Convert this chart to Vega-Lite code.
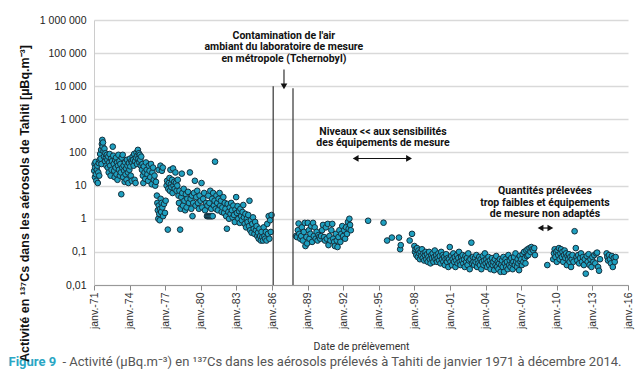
{
"$schema":"https://vega.github.io/schema/vega-lite/v6.json",
"width":534,"height":265,
"autosize":{"type":"none"},
"padding":{"left":94,"top":20,"right":12,"bottom":104},
"background":"white",
"config":{"view":{"stroke":null},"locale":{"number":{"decimal":",","thousands":" ","grouping":[3],"currency":["","€"]}}},
"resolve":{"axis":{"x":"independent","y":"independent"}},
"encoding":{
 "x":{"field":"t","type":"quantitative","scale":{"domain":[1971,2016],"nice":false,"zero":false},"axis":null},
 "y":{"field":"v","type":"quantitative","scale":{"type":"log","domain":[0.01,1000000],"nice":false},"axis":null}
},
"layer":[
{"data":{"values":[
{"t":1971.02,"v":28},{"t":1971.05,"v":45},{"t":1971.08,"v":18},{"t":1971.1,"v":35},{"t":1971.13,"v":52},{"t":1971.16,"v":22},{"t":1971.2,"v":14},{"t":1971.24,"v":30},{"t":1971.28,"v":40},{"t":1971.32,"v":12},{"t":1971.36,"v":25},{"t":1971.4,"v":48},{"t":1971.44,"v":20},{"t":1971.48,"v":60},
{"t":1971.52,"v":90},{"t":1971.56,"v":65},{"t":1971.6,"v":120},{"t":1971.63,"v":45},{"t":1971.66,"v":180},{"t":1971.7,"v":240},{"t":1971.73,"v":150},{"t":1971.76,"v":200},{"t":1971.8,"v":110},{"t":1971.84,"v":75},{"t":1971.88,"v":130},{"t":1971.92,"v":55},{"t":1971.96,"v":95},{"t":1972.0,"v":70},{"t":1972.04,"v":40},{"t":1972.08,"v":85},
{"t":1972.12,"v":60},{"t":1972.16,"v":35},{"t":1972.2,"v":75},{"t":1972.24,"v":25},{"t":1972.28,"v":50},{"t":1972.32,"v":90},{"t":1972.36,"v":40},{"t":1972.4,"v":20},{"t":1972.44,"v":65},{"t":1972.48,"v":30},{"t":1972.52,"v":55},{"t":1972.58,"v":150},{"t":1972.62,"v":80},{"t":1972.66,"v":45},{"t":1972.7,"v":28},{"t":1972.74,"v":18},{"t":1972.78,"v":60},{"t":1972.82,"v":35},{"t":1972.86,"v":70},{"t":1972.9,"v":22},{"t":1972.94,"v":50},{"t":1972.98,"v":15},{"t":1973.02,"v":40},{"t":1973.06,"v":85},{"t":1973.1,"v":30},{"t":1973.14,"v":55},{"t":1973.18,"v":20},
{"t":1973.22,"v":45},{"t":1973.26,"v":25},{"t":1973.3,"v":5.5},{"t":1973.34,"v":70},{"t":1973.38,"v":35},{"t":1973.42,"v":85},{"t":1973.46,"v":18},{"t":1973.5,"v":40},{"t":1973.54,"v":28},{"t":1973.58,"v":13},{"t":1973.62,"v":50},{"t":1973.66,"v":22},{"t":1973.7,"v":33},{"t":1973.74,"v":15},{"t":1973.78,"v":60},{"t":1973.82,"v":40},{"t":1973.86,"v":25},{"t":1973.9,"v":12},{"t":1973.94,"v":48},{"t":1973.98,"v":30},{"t":1974.02,"v":65},{"t":1974.06,"v":38},{"t":1974.1,"v":20},{"t":1974.14,"v":55},{"t":1974.18,"v":14},
{"t":1974.22,"v":50},{"t":1974.26,"v":75},{"t":1974.3,"v":60},{"t":1974.34,"v":40},{"t":1974.38,"v":90},{"t":1974.42,"v":15},{"t":1974.46,"v":55},{"t":1974.5,"v":12},{"t":1974.54,"v":70},{"t":1974.58,"v":100},{"t":1974.62,"v":45},{"t":1974.66,"v":80},{"t":1974.7,"v":120},{"t":1974.74,"v":65},{"t":1974.78,"v":95},{"t":1974.82,"v":50},{"t":1974.86,"v":85},{"t":1974.9,"v":60},{"t":1974.94,"v":40},{"t":1974.98,"v":75},
{"t":1975.04,"v":30},{"t":1975.08,"v":45},{"t":1975.12,"v":20},{"t":1975.16,"v":12},{"t":1975.2,"v":38},{"t":1975.26,"v":25},{"t":1975.32,"v":16},{"t":1975.38,"v":50},{"t":1975.44,"v":30},{"t":1975.5,"v":22},{"t":1975.56,"v":14},{"t":1975.62,"v":40},{"t":1975.68,"v":28},{"t":1975.74,"v":18},{"t":1975.8,"v":45},{"t":1975.86,"v":11},{"t":1975.92,"v":25},{"t":1975.98,"v":35},{"t":1976.04,"v":15},{"t":1976.1,"v":20},{"t":1976.16,"v":10},{"t":1976.22,"v":13},
{"t":1976.3,"v":5},{"t":1976.34,"v":3},{"t":1976.38,"v":1.8},{"t":1976.42,"v":1},{"t":1976.46,"v":2.5},{"t":1976.5,"v":1.4},{"t":1976.54,"v":0.9},{"t":1976.58,"v":2},{"t":1976.62,"v":4},{"t":1976.66,"v":1.6},{"t":1976.7,"v":3},{"t":1976.76,"v":2.2},{"t":1976.82,"v":1.2},{"t":1976.9,"v":2.8},{"t":1976.98,"v":1.5},{"t":1977.04,"v":3.5},{"t":1976.44,"v":30},{"t":1976.6,"v":40},{"t":1976.72,"v":28},{"t":1976.8,"v":35},
{"t":1977.12,"v":10},{"t":1977.16,"v":14},{"t":1977.22,"v":0.47},{"t":1977.26,"v":8},{"t":1977.3,"v":12},{"t":1977.36,"v":17},{"t":1977.4,"v":7},{"t":1977.44,"v":30},{"t":1977.48,"v":11},{"t":1977.52,"v":9},{"t":1977.58,"v":15},{"t":1977.62,"v":6},{"t":1977.66,"v":33},{"t":1977.7,"v":10},{"t":1977.76,"v":13},{"t":1977.8,"v":8},{"t":1977.86,"v":25},{"t":1977.9,"v":12},{"t":1977.96,"v":7},{"t":1978.02,"v":10},{"t":1978.06,"v":15},
{"t":1978.12,"v":5},{"t":1978.16,"v":3},{"t":1978.2,"v":7},{"t":1978.26,"v":0.47},{"t":1978.3,"v":2},{"t":1978.36,"v":4.5},{"t":1978.4,"v":23},{"t":1978.44,"v":6},{"t":1978.5,"v":2.5},{"t":1978.56,"v":8},{"t":1978.62,"v":3.5},{"t":1978.68,"v":1.8},{"t":1978.74,"v":5.5},{"t":1978.8,"v":2.2},{"t":1978.86,"v":4},{"t":1978.92,"v":6.5},{"t":1979.0,"v":3},{"t":1979.08,"v":25},
{"t":1979.14,"v":4},{"t":1979.2,"v":2},{"t":1979.26,"v":5},{"t":1979.3,"v":1.2},{"t":1979.36,"v":3},{"t":1979.42,"v":6},{"t":1979.5,"v":14},{"t":1979.56,"v":2.5},{"t":1979.62,"v":4.5},{"t":1979.7,"v":7},{"t":1979.76,"v":3},{"t":1979.84,"v":2},{"t":1979.9,"v":5},{"t":1979.98,"v":3.5},{"t":1980.06,"v":12},{"t":1980.12,"v":2.2},{"t":1980.2,"v":4},{"t":1980.28,"v":6},{"t":1980.36,"v":1.8},{"t":1980.44,"v":3},
{"t":1980.52,"v":1.2},{"t":1980.6,"v":1.2},{"t":1980.68,"v":1.2},{"t":1980.76,"v":1.2},{"t":1980.84,"v":1.2},{"t":1980.92,"v":1.2},{"t":1981.0,"v":1.2},
{"t":1980.56,"v":2.5},{"t":1980.64,"v":5},{"t":1980.72,"v":3},{"t":1980.8,"v":7},{"t":1980.88,"v":2},{"t":1980.96,"v":4},{"t":1981.04,"v":6},{"t":1981.1,"v":2.5},{"t":1981.16,"v":3.5},{"t":1981.2,"v":53},{"t":1981.26,"v":2},{"t":1981.32,"v":5},{"t":1981.38,"v":3},{"t":1981.44,"v":1.8},{"t":1981.5,"v":4},{"t":1981.58,"v":6},{"t":1981.64,"v":2.5},{"t":1981.7,"v":3.5},{"t":1981.76,"v":1.6},{"t":1981.82,"v":2.2},{"t":1981.9,"v":4.5},{"t":1981.96,"v":1.5},{"t":1982.02,"v":3},
{"t":1982.08,"v":2},{"t":1982.14,"v":1.2},{"t":1982.2,"v":0.5},{"t":1982.26,"v":2.8},{"t":1982.32,"v":1.6},{"t":1982.38,"v":1},{"t":1982.44,"v":2.2},{"t":1982.5,"v":1.4},{"t":1982.56,"v":3},{"t":1982.62,"v":1.8},{"t":1982.68,"v":1.1},{"t":1982.74,"v":2.5},{"t":1982.8,"v":1.3},{"t":1982.86,"v":0.8},{"t":1982.92,"v":1.9},{"t":1982.98,"v":4.5},{"t":1983.04,"v":1.5},{"t":1983.1,"v":2.4},{"t":1983.16,"v":1},{"t":1983.22,"v":1.7},{"t":1983.28,"v":0.75},{"t":1983.34,"v":2},{"t":1983.4,"v":1.2},{"t":1983.46,"v":0.9},{"t":1983.52,"v":1.6},{"t":1983.58,"v":2.6},{"t":1983.64,"v":1.1},{"t":1983.7,"v":0.7},{"t":1983.76,"v":1.4},{"t":1983.82,"v":0.55},{"t":1983.88,"v":1},{"t":1983.94,"v":0.8},{"t":1984.0,"v":1.3},
{"t":1984.06,"v":0.6},{"t":1984.1,"v":3.5},{"t":1984.16,"v":0.45},{"t":1984.22,"v":0.9},{"t":1984.28,"v":0.38},{"t":1984.34,"v":0.7},{"t":1984.4,"v":1.1},{"t":1984.46,"v":0.5},{"t":1984.52,"v":0.35},{"t":1984.58,"v":0.8},{"t":1984.64,"v":0.45},{"t":1984.7,"v":0.6},{"t":1984.76,"v":0.3},{"t":1984.82,"v":0.38},{"t":1984.88,"v":0.25},{"t":1984.94,"v":0.5},{"t":1985.0,"v":0.3},{"t":1985.06,"v":0.22},{"t":1985.12,"v":0.4},{"t":1985.18,"v":0.28},{"t":1985.24,"v":0.22},{"t":1985.3,"v":0.55},{"t":1985.36,"v":0.3},{"t":1985.42,"v":0.25},{"t":1985.48,"v":0.4},{"t":1985.54,"v":0.22},{"t":1985.6,"v":0.7},{"t":1985.66,"v":0.35},{"t":1985.72,"v":1.2},{"t":1985.78,"v":0.25},{"t":1985.84,"v":0.9},{"t":1985.9,"v":0.4},{"t":1985.96,"v":1.3},
{"t":1988.02,"v":0.3},{"t":1988.1,"v":0.28},{"t":1988.18,"v":0.45},{"t":1988.24,"v":0.72},{"t":1988.3,"v":0.35},{"t":1988.38,"v":0.25},{"t":1988.46,"v":0.3},{"t":1988.52,"v":0.55},{"t":1988.6,"v":0.22},{"t":1988.68,"v":0.4},{"t":1988.76,"v":0.75},{"t":1988.82,"v":0.15},{"t":1988.9,"v":0.28},{"t":1988.96,"v":0.18},{"t":1989.02,"v":0.75},{"t":1989.1,"v":0.45},{"t":1989.16,"v":0.25},{"t":1989.24,"v":0.35},{"t":1989.3,"v":0.6},{"t":1989.38,"v":0.2},{"t":1989.46,"v":0.75},{"t":1989.52,"v":0.3},{"t":1989.6,"v":0.55},{"t":1989.68,"v":0.25},{"t":1989.76,"v":0.4},{"t":1989.84,"v":0.22},{"t":1989.9,"v":0.32},{"t":1989.98,"v":0.28},{"t":1990.06,"v":0.25},{"t":1990.14,"v":0.3},{"t":1990.22,"v":0.45},{"t":1990.3,"v":0.65},{"t":1990.38,"v":0.28},{"t":1990.46,"v":0.22},{"t":1990.54,"v":0.55},{"t":1990.62,"v":0.25},{"t":1990.7,"v":0.7},{"t":1990.76,"v":0.16},{"t":1990.84,"v":0.3},{"t":1990.92,"v":0.22},{"t":1991.0,"v":0.45},{"t":1991.08,"v":0.7},{"t":1991.16,"v":0.25},{"t":1991.24,"v":0.2},{"t":1991.3,"v":0.15},{"t":1991.38,"v":0.35},{"t":1991.46,"v":0.22},{"t":1991.52,"v":0.14},{"t":1991.6,"v":0.28},{"t":1991.68,"v":0.45},{"t":1991.76,"v":0.2},{"t":1991.84,"v":0.35},{"t":1991.92,"v":0.6},{"t":1992.0,"v":0.3},{"t":1992.08,"v":0.45},{"t":1992.16,"v":0.25},{"t":1992.24,"v":0.55},{"t":1992.32,"v":0.35},{"t":1992.4,"v":0.8},{"t":1992.46,"v":0.5},{"t":1992.52,"v":1.0},{"t":1992.58,"v":0.65},{"t":1992.64,"v":0.45},
{"t":1994.1,"v":0.87},{"t":1995.4,"v":0.76},{"t":1995.7,"v":0.22},{"t":1996.1,"v":0.27},{"t":1996.7,"v":0.27},{"t":1996.8,"v":0.12},{"t":1996.85,"v":0.16},{"t":1997.6,"v":0.22},{"t":1997.8,"v":0.35},
{"t":1998.0,"v":0.15},{"t":1998.05,"v":0.1},{"t":1998.1,"v":0.12},{"t":1998.16,"v":0.08},{"t":1998.22,"v":0.13},{"t":1998.28,"v":0.07},{"t":1998.34,"v":0.11},{"t":1998.4,"v":0.09},{"t":1998.46,"v":0.06},{"t":1998.52,"v":0.1},{"t":1998.58,"v":0.075},{"t":1998.64,"v":0.12},{"t":1998.7,"v":0.065},{"t":1998.76,"v":0.09},{"t":1998.82,"v":0.055},{"t":1998.88,"v":0.08},{"t":1998.94,"v":0.1},{"t":1999.0,"v":0.06},
{"t":1999.06,"v":0.085},{"t":1999.12,"v":0.05},{"t":1999.18,"v":0.07},{"t":1999.24,"v":0.1},{"t":1999.3,"v":0.06},{"t":1999.36,"v":0.045},{"t":1999.42,"v":0.08},{"t":1999.48,"v":0.065},{"t":1999.54,"v":0.09},{"t":1999.6,"v":0.05},{"t":1999.66,"v":0.07},{"t":1999.72,"v":0.11},{"t":1999.78,"v":0.06},{"t":1999.84,"v":0.08},{"t":1999.9,"v":0.05},{"t":1999.96,"v":0.065},
{"t":2000.02,"v":0.09},{"t":2000.08,"v":0.055},{"t":2000.14,"v":0.075},{"t":2000.2,"v":0.045},{"t":2000.26,"v":0.1},{"t":2000.32,"v":0.06},{"t":2000.38,"v":0.08},{"t":2000.44,"v":0.05},{"t":2000.5,"v":0.07},{"t":2000.56,"v":0.04},{"t":2000.62,"v":0.06},{"t":2000.68,"v":0.085},{"t":2000.74,"v":0.05},{"t":2000.8,"v":0.065},{"t":2000.86,"v":0.035},{"t":2000.92,"v":0.06},{"t":2000.98,"v":0.14},
{"t":2001.04,"v":0.05},{"t":2001.1,"v":0.075},{"t":2001.16,"v":0.04},{"t":2001.22,"v":0.06},{"t":2001.28,"v":0.09},{"t":2001.34,"v":0.05},{"t":2001.4,"v":0.07},{"t":2001.46,"v":0.035},{"t":2001.52,"v":0.055},{"t":2001.58,"v":0.08},{"t":2001.64,"v":0.045},{"t":2001.7,"v":0.065},{"t":2001.76,"v":0.1},{"t":2001.82,"v":0.05},{"t":2001.88,"v":0.04},{"t":2001.94,"v":0.07},
{"t":2002.0,"v":0.055},{"t":2002.06,"v":0.08},{"t":2002.12,"v":0.045},{"t":2002.18,"v":0.06},{"t":2002.24,"v":0.035},{"t":2002.3,"v":0.075},{"t":2002.36,"v":0.05},{"t":2002.42,"v":0.065},{"t":2002.48,"v":0.04},{"t":2002.54,"v":0.09},{"t":2002.6,"v":0.055},{"t":2002.66,"v":0.03},{"t":2002.72,"v":0.06},{"t":2002.8,"v":0.19},{"t":2002.86,"v":0.045},{"t":2002.92,"v":0.07},{"t":2002.98,"v":0.05},
{"t":2003.04,"v":0.04},{"t":2003.1,"v":0.065},{"t":2003.16,"v":0.05},{"t":2003.22,"v":0.08},{"t":2003.28,"v":0.035},{"t":2003.34,"v":0.055},{"t":2003.4,"v":0.045},{"t":2003.46,"v":0.07},{"t":2003.52,"v":0.04},{"t":2003.58,"v":0.06},{"t":2003.64,"v":0.03},{"t":2003.7,"v":0.05},{"t":2003.76,"v":0.075},{"t":2003.82,"v":0.04},{"t":2003.88,"v":0.055},{"t":2003.94,"v":0.09},
{"t":2004.0,"v":0.045},{"t":2004.06,"v":0.06},{"t":2004.12,"v":0.035},{"t":2004.18,"v":0.05},{"t":2004.24,"v":0.07},{"t":2004.3,"v":0.04},{"t":2004.36,"v":0.055},{"t":2004.42,"v":0.03},{"t":2004.48,"v":0.045},{"t":2004.54,"v":0.065},{"t":2004.6,"v":0.04},{"t":2004.66,"v":0.05},{"t":2004.72,"v":0.028},{"t":2004.78,"v":0.06},{"t":2004.84,"v":0.04},{"t":2004.9,"v":0.075},{"t":2004.96,"v":0.035},
{"t":2005.02,"v":0.05},{"t":2005.08,"v":0.03},{"t":2005.14,"v":0.045},{"t":2005.2,"v":0.06},{"t":2005.26,"v":0.025},{"t":2005.32,"v":0.04},{"t":2005.38,"v":0.055},{"t":2005.44,"v":0.035},{"t":2005.5,"v":0.07},{"t":2005.56,"v":0.025},{"t":2005.62,"v":0.045},{"t":2005.68,"v":0.06},{"t":2005.74,"v":0.035},{"t":2005.8,"v":0.05},{"t":2005.86,"v":0.03},{"t":2005.92,"v":0.08},{"t":2005.98,"v":0.04},
{"t":2006.04,"v":0.055},{"t":2006.1,"v":0.035},{"t":2006.16,"v":0.065},{"t":2006.22,"v":0.045},{"t":2006.28,"v":0.03},{"t":2006.34,"v":0.05},{"t":2006.4,"v":0.07},{"t":2006.46,"v":0.04},{"t":2006.52,"v":0.09},{"t":2006.58,"v":0.05},{"t":2006.64,"v":0.035},{"t":2006.7,"v":0.06},{"t":2006.76,"v":0.045},{"t":2006.82,"v":0.028},{"t":2006.88,"v":0.075},{"t":2006.94,"v":0.05},
{"t":2007.0,"v":0.06},{"t":2007.06,"v":0.04},{"t":2007.12,"v":0.085},{"t":2007.18,"v":0.05},{"t":2007.24,"v":0.1},{"t":2007.3,"v":0.065},{"t":2007.36,"v":0.045},{"t":2007.42,"v":0.11},{"t":2007.48,"v":0.075},{"t":2007.54,"v":0.12},{"t":2007.6,"v":0.08},{"t":2007.7,"v":0.13},{"t":2007.78,"v":0.1},{"t":2007.86,"v":0.14},{"t":2007.94,"v":0.12},{"t":2008.02,"v":0.11},{"t":2008.1,"v":0.13},{"t":2008.16,"v":0.08},
{"t":2009.2,"v":0.04},{"t":2009.7,"v":0.06},{"t":2009.76,"v":0.09},{"t":2009.82,"v":0.12},{"t":2009.88,"v":0.07},{"t":2009.94,"v":0.1},{"t":2010.0,"v":0.05},{"t":2010.06,"v":0.11},{"t":2010.12,"v":0.08},{"t":2010.18,"v":0.13},{"t":2010.24,"v":0.06},{"t":2010.3,"v":0.09},{"t":2010.36,"v":0.12},{"t":2010.42,"v":0.07},{"t":2010.48,"v":0.1},{"t":2010.54,"v":0.05},{"t":2010.6,"v":0.08},{"t":2010.66,"v":0.11},{"t":2010.72,"v":0.065},{"t":2010.78,"v":0.09},{"t":2010.84,"v":0.04},{"t":2010.9,"v":0.075},{"t":2010.96,"v":0.06},{"t":2011.02,"v":0.085},{"t":2011.08,"v":0.05},{"t":2011.14,"v":0.07},{"t":2011.2,"v":0.035},{"t":2011.26,"v":0.06},{"t":2011.32,"v":0.08},{"t":2011.4,"v":0.05},{"t":2011.5,"v":0.42},{"t":2011.6,"v":0.13},{"t":2011.66,"v":0.07},{"t":2011.72,"v":0.055},{"t":2011.8,"v":0.08},{"t":2011.88,"v":0.045},{"t":2011.96,"v":0.065},{"t":2012.04,"v":0.09},{"t":2012.12,"v":0.05},{"t":2012.2,"v":0.07},{"t":2012.28,"v":0.04},{"t":2012.36,"v":0.06},{"t":2012.44,"v":0.022},{"t":2012.52,"v":0.075},{"t":2012.6,"v":0.05},{"t":2012.68,"v":0.085},{"t":2012.76,"v":0.04},{"t":2012.84,"v":0.06},{"t":2012.92,"v":0.035},{"t":2013.0,"v":0.07},{"t":2013.08,"v":0.05},{"t":2013.16,"v":0.08},{"t":2013.24,"v":0.045},{"t":2013.32,"v":0.09},{"t":2013.4,"v":0.095},{"t":2013.48,"v":0.035},{"t":2013.56,"v":0.027},{"t":2013.64,"v":0.06},
{"t":2014.2,"v":0.09},{"t":2014.26,"v":0.07},{"t":2014.32,"v":0.055},{"t":2014.4,"v":0.08},{"t":2014.48,"v":0.06},{"t":2014.56,"v":0.045},{"t":2014.64,"v":0.075},{"t":2014.72,"v":0.035},{"t":2014.8,"v":0.065},{"t":2014.88,"v":0.05},{"t":2014.96,"v":0.07}
]},
"mark":{"type":"point","shape":"circle","filled":true,"fill":"#1fa0c0","stroke":"#16303d","strokeWidth":1,"size":32,"opacity":1},
"encoding":{
 "x":{"field":"t","type":"quantitative","scale":{"domain":[1971,2016],"nice":false,"zero":false},
  "axis":{"orient":"bottom","values":[1971,1974,1977,1980,1983,1986,1989,1992,1995,1998,2001,2004,2007,2010,2013,2016],"labelExpr":"'janv.-' + slice(toString(datum.value), 2)","labelAngle":-90,"labelFlush":false,"labelOverlap":false,"grid":false,"tickSize":5,"tickColor":"#888888","domainColor":"#999999","labelPadding":2,"labelFont":"Liberation Sans","labelFontSize":10.5,"labelColor":"#333333","title":"Date de prélèvement","titleFont":"Roboto","titleFontSize":10.5,"titleFontWeight":"normal","titleColor":"#333333","titlePadding":13}},
 "y":{"field":"v","type":"quantitative","scale":{"type":"log","domain":[0.01,1000000],"nice":false},
  "axis":{"orient":"left","values":[0.01,0.1,1,10,100,1000,10000,100000,1000000],"format":",~r","grid":true,"gridColor":"#d9d9d9","gridWidth":1.5,"ticks":false,"labelPadding":8,"domainColor":"#cccccc","labelFont":"Liberation Sans","labelFontSize":10.5,"labelColor":"#222222","title":"Activité en ¹³⁷Cs dans les aérosols de Tahiti [µBq.m⁻³]","titleFont":"Liberation Sans","titleFontSize":12.5,"titleFontWeight":"bold","titleColor":"#111111","titleX":-70,"titleY":183,"titleAngle":-90,"titleAlign":"center","titleBaseline":"middle"}}
}},
{"data":{"values":[{"t":1986.1,"v":10000,"v2":0.01},{"t":1987.77,"v":8700,"v2":0.01},{"t":1987.01,"v":32000,"v2":10500}]},
 "mark":{"type":"rule","color":"#333333","strokeWidth":1.2},
 "encoding":{"y2":{"field":"v2"}}},
{"data":{"values":[{"t":1993.0,"t2":1997.6,"v":66},{"t":2008.6,"t2":2009.5,"v":0.525}]},
 "mark":{"type":"rule","color":"#111111","strokeWidth":1.2},
 "encoding":{"x2":{"field":"t2"}}},
{"data":{"values":[{"t":1987.01,"v":9880,"dir":"down"},{"t":1993.05,"v":66,"dir":"left"},{"t":1997.55,"v":66,"dir":"right"},{"t":2008.63,"v":0.525,"dir":"left"},{"t":2009.46,"v":0.525,"dir":"right"}]},
 "mark":{"type":"point","filled":true,"color":"#111111","size":45,"opacity":1},
 "encoding":{"shape":{"field":"dir","type":"nominal","scale":{"domain":["down","left","right"],"range":["triangle-down","triangle-left","triangle-right"]},"legend":null}}},
{"data":{"values":[
 {"t":1987.0,"v":340000,"label":"Contamination de l'air\nambiant du laboratoire de mesure\nen métropole (Tchernobyl)"},
 {"t":1995.35,"v":430,"label":"Niveaux << aux sensibilités\ndes équipements de mesure"},
 {"t":2009.0,"v":6.8,"label":"Quantités prélevées\ntrop faibles et équipements\nde mesure non adaptés"}]},
 "mark":{"type":"text","font":"Roboto","fontSize":10.5,"fontWeight":"bold","color":"#111111","align":"center","baseline":"middle","lineBreak":"\n","lineHeight":11.5},
 "encoding":{
  "text":{"field":"label"},
  "x":{"field":"t","type":"quantitative","scale":{"domain":[1971,2016],"nice":false,"zero":false},
   "axis":{"orient":"bottom","labels":false,"ticks":false,"domain":false,"grid":false,"title":"Figure 9","titleX":-86,"titleY":80,"titleAngle":0,"titleAlign":"left","titleBaseline":"alphabetic","titleFont":"Roboto","titleFontSize":13,"titleFontWeight":"bold","titleColor":"#2aa6c4"}},
  "y":{"field":"v","type":"quantitative","scale":{"type":"log","domain":[0.01,1000000],"nice":false},
   "axis":{"orient":"right","labels":false,"ticks":false,"domain":false,"grid":false,"title":"- Activité (µBq.m⁻³) en ¹³⁷Cs dans les aérosols prélevés à Tahiti de janvier 1971 à décembre 2014.","titleX":-566,"titleY":345,"titleAngle":0,"titleAlign":"left","titleBaseline":"alphabetic","titleFont":"Roboto","titleFontSize":13,"titleFontWeight":"normal","titleColor":"#555555"}}
 }}
]
}
